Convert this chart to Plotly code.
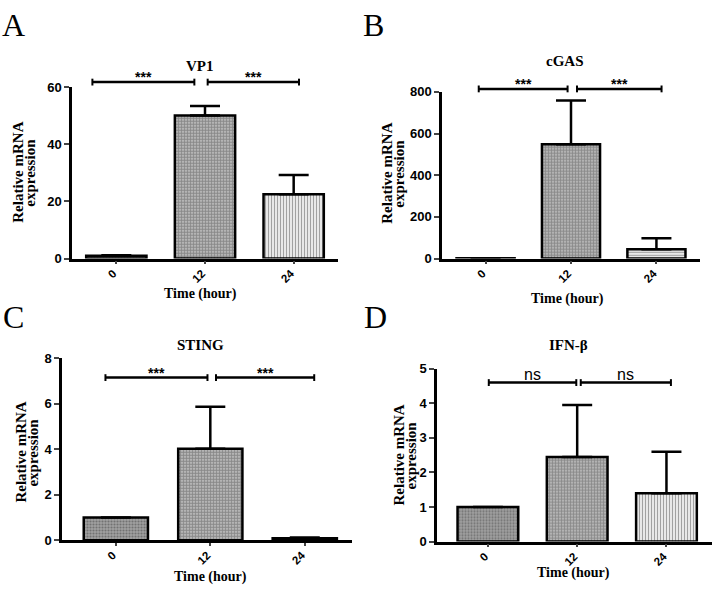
import plotly.graph_objects as go

# ---------------- data ----------------
categories = ["0", "12", "24"]

vp1_mean = [1.0, 50.0, 22.5]
vp1_err = [0.2, 3.3, 6.7]

cgas_mean = [1.0, 549.0, 45.0]
cgas_err = [0.5, 210.0, 52.0]

sting_mean = [1.0, 4.02, 0.09]
sting_err = [0.0, 1.84, 0.03]

ifnb_mean = [1.0, 2.45, 1.40]
ifnb_err = [0.0, 1.50, 1.20]

panel_titles = ["VP1", "cGAS", "STING", "IFN-β"]
panel_letters = ["A", "B", "C", "D"]
sig_labels = [["***", "***"], ["***", "***"], ["***", "***"], ["ns", "ns"]]
# bracket spans in category units and bracket height in data units
sig_spans = [
    [(-0.27, 0.88), (1.03, 2.06)],
    [(-0.08, 0.96), (1.07, 2.06)],
    [(-0.11, 0.97), (1.06, 2.10)],
    [(0.01, 0.99), (1.04, 2.05)],
]
sig_heights = [61.7, 814, 7.14, 4.6]
y_ticks = [[0, 20, 40, 60], [0, 200, 400, 600, 800], [0, 2, 4, 6, 8], [0, 1, 2, 3, 4, 5]]
y_max = [60, 800, 8, 5]

# ---------------- layout geometry (pixels) ----------------
W, H = 714, 601
px_x = [(72, 338), (442, 700), (62, 352), (437, 712)]
px_y = [(258, 82), (258, 87), (547, 360), (548.3, 371)]
x_ranges = [(-0.5, 2.5), (-0.51, 2.51), (-0.57, 2.5), (-0.57, 2.51)]

title_pos = [(200, 61), (565, 55), (200, 347), (568, 347)]
xtitle_pos = [(200, 294), (567, 299), (210, 585), (573, 580)]
ylabel_pos = [(18, 170), (387, 171), (21, 457), (399, 460)]
ylabel_gap = 12
letter_pos = [(13, 18), (373, 18), (13, 318), (375, 318)]

means = [vp1_mean, cgas_mean, sting_mean, ifnb_mean]
errs = [vp1_err, cgas_err, sting_err, ifnb_err]

bar24_shape = ["|", "-", "|", "|"]

SERIF = "Liberation Serif"
SANS = "Liberation Sans"

fig = go.Figure()

for i in range(4):
    ax = "" if i == 0 else str(i + 1)
    xd = [px_x[i][0] / W, px_x[i][1] / W]
    yd = [1 - px_y[i][0] / H, 1 - px_y[i][1] / H]
    fig.add_trace(go.Bar(
        x=[0, 1, 2],
        y=means[i],
        width=0.68,
        xaxis="x" + ax,
        yaxis="y" + ax,
        marker=dict(
            color=["#a0a0a0", "#d0d0d0", "#ffffff"],
            line=dict(color="black", width=2.5),
            pattern=dict(
                shape=[".", ".", bar24_shape[i]],
                fgcolor=["#444444", "#000000", "#444444"],
                size=[3, 3, 3],
                solidity=[0.4, 0.7, 0.5],
                fillmode="overlay",
            ),
        ),
        error_y=dict(
            type="data", array=errs[i], arrayminus=[0, 0, 0], symmetric=False,
            color="black", thickness=2.5, width=15,
        ),
        showlegend=False,
    ))
    fig.update_layout(**{
        "xaxis" + ax: dict(
            domain=xd, range=list(x_ranges[i]), anchor="y" + ax,
            tickmode="array", tickvals=[0, 1, 2], ticktext=categories,
            tickangle=-45, ticks="outside", ticklen=3, tickwidth=2,
            ticklabelshift=-3, ticklabelstandoff=-2,
            showline=True, linewidth=2.5, linecolor="black",
            showgrid=False, zeroline=False,
            tickfont=dict(family=SANS, size=11.5, color="black", weight="bold"),
        ),
        "yaxis" + ax: dict(
            domain=yd, range=[0, y_max[i]], anchor="x" + ax,
            tickmode="array", tickvals=y_ticks[i],
            ticks="outside", ticklen=5, tickwidth=2,
            showline=True, linewidth=2.5, linecolor="black",
            showgrid=False, zeroline=False,
            tickfont=dict(family=SANS, size=13, color="black", weight="bold"),
        ),
    })

    def to_px_x(v, i=i):
        r = x_ranges[i]
        return (px_x[i][0] + (v - r[0]) / (r[1] - r[0]) * (px_x[i][1] - px_x[i][0])) / W

    def to_px_y(v, i=i):
        return 1 - (px_y[i][0] + (v / y_max[i]) * (px_y[i][1] - px_y[i][0])) / H

    yb = to_px_y(sig_heights[i])
    for (a, b), lab in zip(sig_spans[i], sig_labels[i]):
        xa, xb = to_px_x(a), to_px_x(b)
        fig.add_shape(type="line", xref="paper", yref="paper", x0=xa, x1=xb, y0=yb, y1=yb,
                      line=dict(color="black", width=2.5))
        for xe in (xa, xb):
            fig.add_shape(type="line", xref="paper", yref="paper", x0=xe, x1=xe,
                          y0=yb - 3.5 / H, y1=yb + 3.5 / H, line=dict(color="black", width=2))
        if lab == "ns":
            fnt = dict(family=SANS, size=16, color="black")
            ys = -2
        else:
            fnt = dict(family=SANS, size=14, color="black", weight="bold")
            ys = -5
        fig.add_annotation(x=(xa + xb) / 2, y=yb, xref="paper", yref="paper",
                           text=lab, showarrow=False, font=fnt, xanchor="center", yanchor="bottom",
                           yshift=ys)

    fig.add_annotation(x=title_pos[i][0] / W, y=1 - title_pos[i][1] / H, xref="paper", yref="paper",
                       text=panel_titles[i], showarrow=False,
                       font=dict(family=SERIF, size=15, color="black", weight="bold"),
                       xanchor="center", yanchor="middle")
    fig.add_annotation(x=xtitle_pos[i][0] / W, y=1 - xtitle_pos[i][1] / H, xref="paper", yref="paper",
                       text="Time (hour)", showarrow=False,
                       font=dict(family=SERIF, size=14, color="black", weight="bold"),
                       xanchor="center", yanchor="middle")
    for k, line in enumerate(["Relative mRNA", "expression"]):
        fig.add_annotation(x=(ylabel_pos[i][0] + k * ylabel_gap) / W, y=1 - ylabel_pos[i][1] / H,
                           xref="paper", yref="paper",
                           text=line, showarrow=False, textangle=-90,
                           font=dict(family=SERIF, size=15, color="black", weight="bold"),
                           xanchor="center", yanchor="middle")
    fig.add_annotation(x=letter_pos[i][0] / W, y=1 - letter_pos[i][1] / H, xref="paper", yref="paper",
                       text=panel_letters[i], showarrow=False,
                       font=dict(family=SERIF, size=32, color="black"),
                       xanchor="center", yanchor="middle")

fig.update_layout(
    width=W, height=H,
    margin=dict(l=0, r=0, t=0, b=0),
    paper_bgcolor="white", plot_bgcolor="white",
)

fig.write_html("out.html", config={"displayModeBar": False},
               post_script="document.body.style.margin='0';document.body.style.overflow='hidden';")
